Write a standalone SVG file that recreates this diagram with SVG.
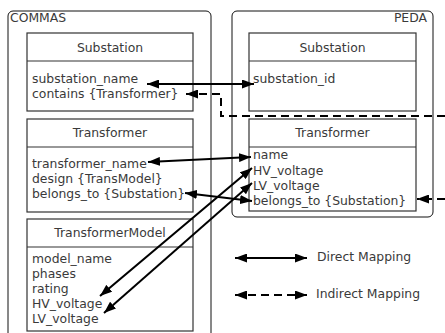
<svg xmlns="http://www.w3.org/2000/svg" width="445" height="333" viewBox="0 0 445 333">
  <style>
    text { font-family: "DejaVu Sans", Verdana, sans-serif; font-size: 12.4px; fill: #3a3a3a; }
    .hdr { text-anchor: middle; }
    .container { fill: #fff; stroke: #111; stroke-width: 1; }
    .box { fill: #fff; stroke: #333; stroke-width: 1.2; }
    .div { stroke: #333; stroke-width: 1.2; }
    .conn { fill: none; stroke: #000; stroke-width: 2; }
    .dash { stroke-dasharray: 8 5; }
  </style>
  <defs>
    <marker id="arrow" viewBox="0 0 12 9" refX="12" refY="4.5" markerWidth="12" markerHeight="9" markerUnits="userSpaceOnUse" orient="auto-start-reverse">
      <path d="M0,0 L12,4.5 L0,9 z" fill="#000" stroke="none"/>
    </marker>
  </defs>

  <!-- schema containers -->
  <g id="commas">
    <rect class="container" x="8" y="11" width="203" height="340" rx="5"/>
    <text x="10" y="22">COMMAS</text>
  </g>
  <g id="peda">
    <rect class="container" x="232" y="11" width="201" height="206" rx="5"/>
    <text x="427" y="22" text-anchor="end">PEDA</text>
  </g>

  <!-- COMMAS classes -->
  <g id="commas-substation">
    <rect class="box" x="27" y="33" width="166" height="78"/>
    <line class="div" x1="27" y1="61" x2="193" y2="61"/>
    <text class="hdr" x="110" y="52">Substation</text>
    <text x="32" y="83">substation_name</text>
    <text x="32" y="98">contains {Transformer}</text>
  </g>
  <g id="commas-transformer">
    <rect class="box" x="27" y="119" width="166" height="93"/>
    <line class="div" x1="27" y1="147" x2="193" y2="147"/>
    <text class="hdr" x="110" y="137">Transformer</text>
    <text x="32" y="168">transformer_name</text>
    <text x="32" y="183">design {TransModel}</text>
    <text x="32" y="198">belongs_to {Substation}</text>
  </g>
  <g id="commas-transformermodel">
    <rect class="box" x="27" y="219" width="166" height="112"/>
    <line class="div" x1="27" y1="247" x2="193" y2="247"/>
    <text class="hdr" x="110" y="237">TransformerModel</text>
    <text x="32" y="263">model_name</text>
    <text x="32" y="278">phases</text>
    <text x="32" y="293">rating</text>
    <text x="32" y="308">HV_voltage</text>
    <text x="32" y="323">LV_voltage</text>
  </g>

  <!-- PEDA classes -->
  <g id="peda-substation">
    <rect class="box" x="249" y="33" width="167" height="78"/>
    <line class="div" x1="249" y1="61" x2="416" y2="61"/>
    <text class="hdr" x="332.5" y="52">Substation</text>
    <text x="253" y="83">substation_id</text>
  </g>
  <g id="peda-transformer">
    <rect class="box" x="249" y="119" width="167" height="92"/>
    <line class="div" x1="249" y1="147" x2="416" y2="147"/>
    <text class="hdr" x="332.5" y="137">Transformer</text>
    <text x="253" y="159">name</text>
    <text x="253" y="175">HV_voltage</text>
    <text x="253" y="190">LV_voltage</text>
    <text x="253" y="205">belongs_to {Substation}</text>
  </g>

  <!-- mappings -->
  <g id="connectors">
    <path class="conn" d="M147,84 L254,84" marker-start="url(#arrow)" marker-end="url(#arrow)"/>
    <path class="conn" d="M148,162 L251,157" marker-start="url(#arrow)" marker-end="url(#arrow)"/>
    <path class="conn" d="M185,193 L252,201" marker-start="url(#arrow)" marker-end="url(#arrow)"/>
    <path class="conn" d="M252,168 L100,296" marker-start="url(#arrow)" marker-end="url(#arrow)"/>
    <path class="conn" d="M252,183 L104,313" marker-start="url(#arrow)" marker-end="url(#arrow)"/>
    <path class="conn dash" d="M445,116 H221 V94 H186" marker-end="url(#arrow)"/>
    <path class="conn dash" d="M445,199 H417" marker-end="url(#arrow)"/>
  </g>

  <!-- legend -->
  <g id="legend">
    <path class="conn" d="M235,258 H307" marker-start="url(#arrow)" marker-end="url(#arrow)"/>
    <text x="317" y="261">Direct Mapping</text>
    <path class="conn dash" d="M235,295 H307" stroke-dasharray="10 6" marker-start="url(#arrow)" marker-end="url(#arrow)"/>
    <text x="316" y="298">Indirect Mapping</text>
  </g>
</svg>
